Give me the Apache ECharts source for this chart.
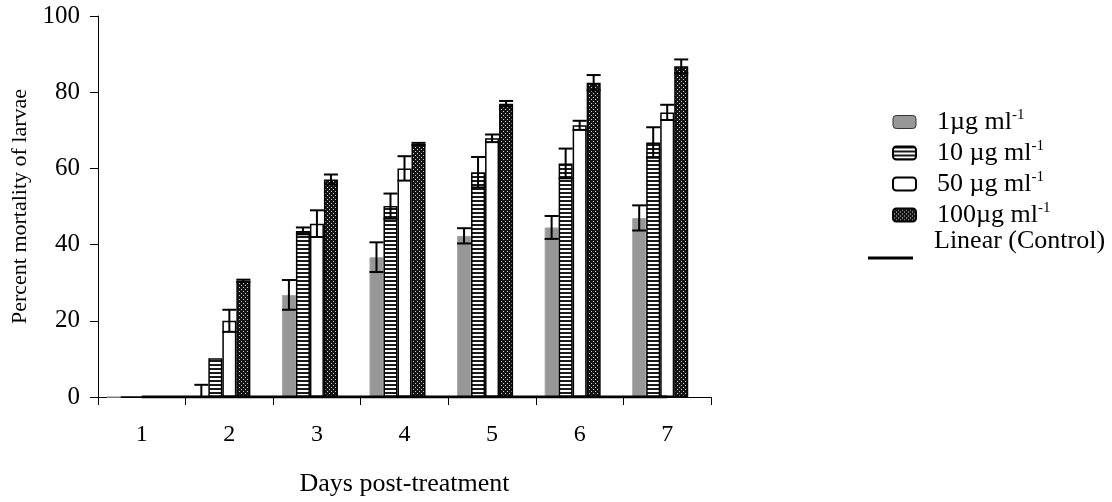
<!DOCTYPE html>
<html>
<head>
<meta charset="utf-8">
<script src="https://cdn.jsdelivr.net/npm/echarts@6/dist/echarts.min.js"></script>
<style>
  html, body { margin: 0; padding: 0; background: #fff; }
  #chart { width: 1112px; height: 502px; }
</style>
</head>
<body>
<div id="chart"></div>
<script>
// Larval mortality (%) by day after treatment, mean with error.
const days = ['1', '2', '3', '4', '5', '6', '7'];
const yTicks = [0, 20, 40, 60, 80, 100];

const mean1   = [0, 0,    26.8, 36.7, 42.3, 44.5, 47.0];
const err1    = [0, 3.2,  3.9,  3.9,  2.0,  3.0,  3.3];
const mean10  = [0, 10.2, 43.6, 50.1, 59.0, 61.3, 66.8];
const err10   = [0, 0,    0.9,  3.3,  4.0,  3.9,  4.0];
const mean50  = [0, 20.0, 45.5, 60.0, 67.9, 71.3, 74.7];
const err50   = [0, 2.9,  3.5,  3.2,  1.0,  1.2,  2.0];
const mean100 = [0, 30.5, 57.1, 66.4, 77.0, 82.5, 86.8];
const err100  = [0, 0.3,  1.3,  0.3,  0.7,  2.0,  1.8];
const control = [0, 0, 0, 0, 0, 0, 0];

const FONT = '"Liberation Serif", "Times New Roman", serif';

// Fill patterns for the hatched bars
function stripePattern() {
  const c = document.createElement('canvas');
  c.width = 4; c.height = 4;
  const g = c.getContext('2d');
  g.fillStyle = '#ffffff'; g.fillRect(0, 0, 4, 4);
  g.fillStyle = '#1a1a1a'; g.fillRect(0, 0, 4, 2);
  return c;
}
function dotPattern() {
  const c = document.createElement('canvas');
  c.width = 4; c.height = 4;
  const g = c.getContext('2d');
  g.fillStyle = '#141414'; g.fillRect(0, 0, 4, 4);
  g.fillStyle = '#d0d0d0';
  g.fillRect(1, 1, 1, 1);
  g.fillRect(3, 3, 1, 1);
  return c;
}

const names = ['1µg ml-1', '10 µg ml-1', '50 µg ml-1', '100µg ml-1'];
const means = [mean1, mean10, mean50, mean100];
const errs = [err1, err10, err50, err100];
const styles = [
  { color: '#979797', borderColor: '#a8a8a8', borderWidth: 1 },
  { color: { image: stripePattern(), repeat: 'repeat' }, borderColor: '#000', borderWidth: 1.5 },
  { color: '#ffffff', borderColor: '#000', borderWidth: 1.5 },
  { color: { image: dotPattern(), repeat: 'repeat' }, borderColor: '#000', borderWidth: 1.5 }
];
const NBARS = 5;   // four doses plus the control column

function legendLabel(name) {
  const base = name.replace('ml-1', 'ml');
  return '{t|' + base + '}{s|-1}';
}

// Error bars centred on each bar of a cluster
function renderErr(params, api) {
  const cat = api.value(0), val = api.value(1), err = api.value(2), k = api.value(3);
  if (!err) return null;
  const band = api.size([1, 0])[0];
  const bw = band * 0.8 / NBARS;
  const x = api.coord([cat, val])[0] + (k - (NBARS - 1) / 2) * bw;
  const lo = val - err;
  const yTop = api.coord([cat, val + err])[1];
  const yBot = api.coord([cat, Math.max(0, lo)])[1];
  const half = bw / 2;
  const st = { stroke: '#000', lineWidth: 2 };
  const children = [
    { type: 'line', shape: { x1: x, y1: yTop, x2: x, y2: yBot }, style: st },
    { type: 'line', shape: { x1: x - half, y1: yTop, x2: x + half, y2: yTop }, style: st }
  ];
  if (lo > 0) {
    children.push({ type: 'line', shape: { x1: x - half, y1: yBot, x2: x + half, y2: yBot }, style: st });
  }
  return { type: 'group', children: children };
}

const series = [];
names.forEach(function (n, k) {
  series.push({
    name: n, type: 'bar', data: means[k],
    barGap: '0%', barCategoryGap: '20%',
    itemStyle: styles[k], z: 2
  });
});
series.push({
  name: 'Control', type: 'bar', data: control,
  barGap: '0%', barCategoryGap: '20%',
  itemStyle: { color: '#fff', borderWidth: 0 }
});
series.push({
  name: 'Linear (Control)', type: 'line', data: control,
  symbol: 'none', lineStyle: { color: '#000', width: 3 }, itemStyle: { color: '#000' }, z: 4
});
names.forEach(function (n, k) {
  const pts = means[k].map(function (v, i) { return [i, v, errs[k][i], k]; });
  series.push({
    name: n + ' err', type: 'custom', data: pts, renderItem: renderErr,
    clip: true, z: 5, silent: true
  });
});

const richText = {
  t: { fontFamily: FONT, fontSize: 26, color: '#000', lineHeight: 28 },
  s: { fontFamily: FONT, fontSize: 15, color: '#000', lineHeight: 15, verticalAlign: 'top' }
};

const barLegend = names.map(function (n, k) {
  return k === 0
    ? { name: n, itemStyle: { color: '#979797', borderColor: '#333', borderWidth: 1 } }
    : { name: n };
});

const option = {
  animation: false,
  backgroundColor: '#fff',
  grid: { left: 98, top: 16, right: 401, bottom: 102, containLabel: false },
  legend: [
    {
      data: barLegend, orient: 'vertical', left: 887, top: 103,
      itemWidth: 23, itemHeight: 13, itemGap: 4,
      formatter: legendLabel,
      textStyle: { rich: richText, padding: [0, 0, 0, 16] }
    },
    {
      // trendline key: the line sits below the text
      data: [{ name: 'Linear (Control)', icon: 'rect' }], orient: 'vertical', left: 863, top: 223,
      itemWidth: 45, itemHeight: 3,
      formatter: function (n) { return '{t|' + n + '}\n{e| }'; },
      textStyle: {
        padding: [0, 0, 0, 16],
        rich: {
          t: { fontFamily: FONT, fontSize: 26, color: '#000', lineHeight: 28 },
          e: { fontSize: 2, lineHeight: 34 }
        }
      }
    }
  ],
  xAxis: {
    type: 'category', data: days,
    axisLine: { lineStyle: { color: '#000', width: 1 } },
    axisTick: { show: true, length: 8, lineStyle: { color: '#000' } },
    axisLabel: { color: '#000', fontFamily: FONT, fontSize: 24, margin: 26 },
    name: 'Days post-treatment', nameLocation: 'middle', nameGap: 74,
    nameTextStyle: { color: '#000', fontFamily: FONT, fontSize: 26 }
  },
  yAxis: {
    type: 'value', min: yTicks[0], max: yTicks[yTicks.length - 1], interval: 20,
    axisLine: { show: true, lineStyle: { color: '#000', width: 1 } },
    axisTick: { show: true, length: 8, lineStyle: { color: '#000' } },
    splitLine: { show: false },
    axisLabel: { color: '#000', fontFamily: FONT, fontSize: 25, margin: 18 },
    name: 'Percent mortality of larvae', nameLocation: 'middle', nameGap: 64,
    nameTextStyle: { color: '#000', fontFamily: FONT, fontSize: 22 }
  },
  series: series
};

const chart = echarts.init(document.getElementById('chart'), null, { renderer: 'canvas' });
chart.setOption(option);
</script>
</body>
</html>
